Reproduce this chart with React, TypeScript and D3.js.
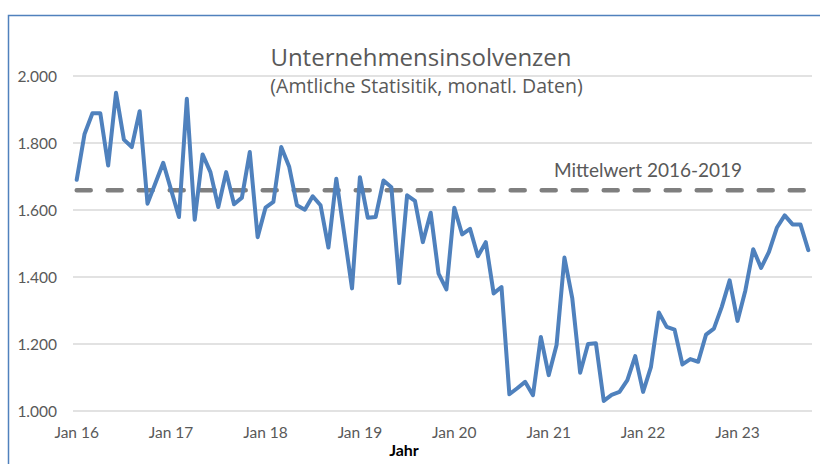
import * as d3 from 'd3';
import React, { ReactElement, useEffect, useRef } from 'react';

const WIDTH = 820;
const HEIGHT = 464;
const FONT = 'Lato, "Open Sans", sans-serif';
const TITLE_FONT = '"Open Sans", Lato, sans-serif';

// monthly values, Jan 2016 - Oct 2023
const v2016 = [1690, 1827, 1889, 1889, 1733, 1950, 1810, 1788, 1895, 1619, 1680, 1741];
const v2017 = [1660, 1579, 1932, 1571, 1766, 1713, 1609, 1713, 1617, 1637, 1773, 1519];
const v2018 = [1607, 1624, 1788, 1730, 1614, 1601, 1641, 1614, 1488, 1693, 1530, 1366];
const v2019 = [1698, 1577, 1579, 1688, 1668, 1382, 1644, 1627, 1504, 1592, 1410, 1363];
const v2020 = [1607, 1527, 1544, 1462, 1504, 1351, 1370, 1050, 1068, 1087, 1047, 1221];
const v2021 = [1107, 1197, 1458, 1336, 1114, 1200, 1202, 1030, 1048, 1057, 1092, 1164];
const v2022 = [1057, 1132, 1294, 1251, 1243, 1139, 1155, 1147, 1228, 1246, 1311, 1390];
const v2023 = [1269, 1360, 1483, 1427, 1475, 1547, 1584, 1557, 1557, 1480];

const xLabels = ['Jan 16', 'Jan 17', 'Jan 18', 'Jan 19', 'Jan 20', 'Jan 21', 'Jan 22', 'Jan 23'];
const yTicks = [1000, 1200, 1400, 1600, 1800, 2000];

const values = [...v2016, ...v2017, ...v2018, ...v2019, ...v2020, ...v2021, ...v2022, ...v2023];
const baseYears = [...v2016, ...v2017, ...v2018, ...v2019];

const de = d3.formatLocale({ decimal: ',', thousands: '.', grouping: [3], currency: ['', ' €'] });
const fmt = de.format(',.0f');

const InsolvencyChart = (): ReactElement => {
  const ref = useRef(null);

  const create = () => {
    const svg = d3
      .select(ref.current)
      .append('svg')
      .attr('width', WIDTH)
      .attr('height', HEIGHT)
      .style('position', 'absolute')
      .style('left', 0)
      .style('top', 0)
      .style('background', '#fff');

    const x = d3.scaleLinear().domain([0, values.length - 1]).range([76.7, 808.3]);
    const y = d3.scaleLinear().domain([1000, 2000]).range([411, 76]);
    const mean = d3.mean(baseYears) as number;

    // frame (top + left edge)
    svg
      .append('path')
      .attr('d', `M8.5,${HEIGHT} V15.5 H${WIDTH}`)
      .attr('fill', 'none')
      .attr('stroke', '#5081bd')
      .attr('stroke-width', 1.5);

    // gridlines
    svg
      .selectAll('line.grid')
      .data(yTicks)
      .enter()
      .append('line')
      .attr('class', 'grid')
      .attr('x1', 73)
      .attr('x2', 812)
      .attr('y1', (d) => y(d))
      .attr('y2', (d) => y(d))
      .attr('stroke', '#d9d9d9')
      .attr('stroke-width', 1.5);

    // y labels
    svg
      .selectAll('text.ylab')
      .data(yTicks)
      .enter()
      .append('text')
      .attr('class', 'ylab')
      .attr('x', 57)
      .attr('y', (d) => y(d) + 5.5)
      .attr('text-anchor', 'end')
      .attr('font-family', FONT)
      .attr('font-size', '15.5px')
      .attr('fill', '#595959')
      .text((d) => fmt(d));

    // x labels at each January
    svg
      .selectAll('text.xlab')
      .data(xLabels)
      .enter()
      .append('text')
      .attr('class', 'xlab')
      .attr('x', (d, i) => x(i * 12))
      .attr('y', 438)
      .attr('text-anchor', 'middle')
      .attr('font-family', FONT)
      .attr('font-size', '15.5px')
      .attr('fill', '#595959')
      .text((d) => d);

    svg
      .append('text')
      .attr('x', 404)
      .attr('y', 456)
      .attr('text-anchor', 'middle')
      .attr('font-family', FONT)
      .attr('font-weight', 'bold')
      .attr('font-size', '16px')
      .attr('fill', '#000')
      .text('Jahr');

    // mean line
    svg
      .append('line')
      .attr('x1', x(0))
      .attr('x2', x(values.length - 1))
      .attr('y1', y(mean))
      .attr('y2', y(mean))
      .attr('stroke', '#7f7f7f')
      .attr('stroke-width', 4.5)
      .attr('stroke-linecap', 'round')
      .attr('stroke-dasharray', '14 17');

    // main series
    const line = d3
      .line<number>()
      .x((d, i) => x(i))
      .y((d) => y(d));

    svg
      .append('path')
      .datum(values)
      .attr('d', line)
      .attr('fill', 'none')
      .attr('stroke', '#4f81bd')
      .attr('stroke-width', 4)
      .attr('stroke-linejoin', 'round')
      .attr('stroke-linecap', 'round');

    // titles
    svg
      .append('text')
      .attr('x', 421)
      .attr('y', 66)
      .attr('text-anchor', 'middle')
      .attr('font-family', TITLE_FONT)
      .attr('font-size', '24px')
      .attr('fill', '#595959')
      .text('Unternehmensinsolvenzen');

    svg
      .append('text')
      .attr('x', 426.5)
      .attr('y', 93)
      .attr('text-anchor', 'middle')
      .attr('font-family', TITLE_FONT)
      .attr('font-size', '19.5px')
      .attr('fill', '#595959')
      .text('(Amtliche Statisitik, monatl. Daten)');

    svg
      .append('text')
      .attr('x', 554)
      .attr('y', 177)
      .attr('font-family', FONT)
      .attr('font-size', '19px')
      .attr('fill', '#595959')
      .text('Mittelwert 2016-2019');
  };

  const clear = () => {
    d3.select(ref.current).selectAll('svg').remove();
  };

  useEffect(() => {
    create();
    return () => {
      clear();
    };
  }, []);

  return <div ref={ref}></div>;
};

export default function App(): ReactElement {
  return <InsolvencyChart />;
}
